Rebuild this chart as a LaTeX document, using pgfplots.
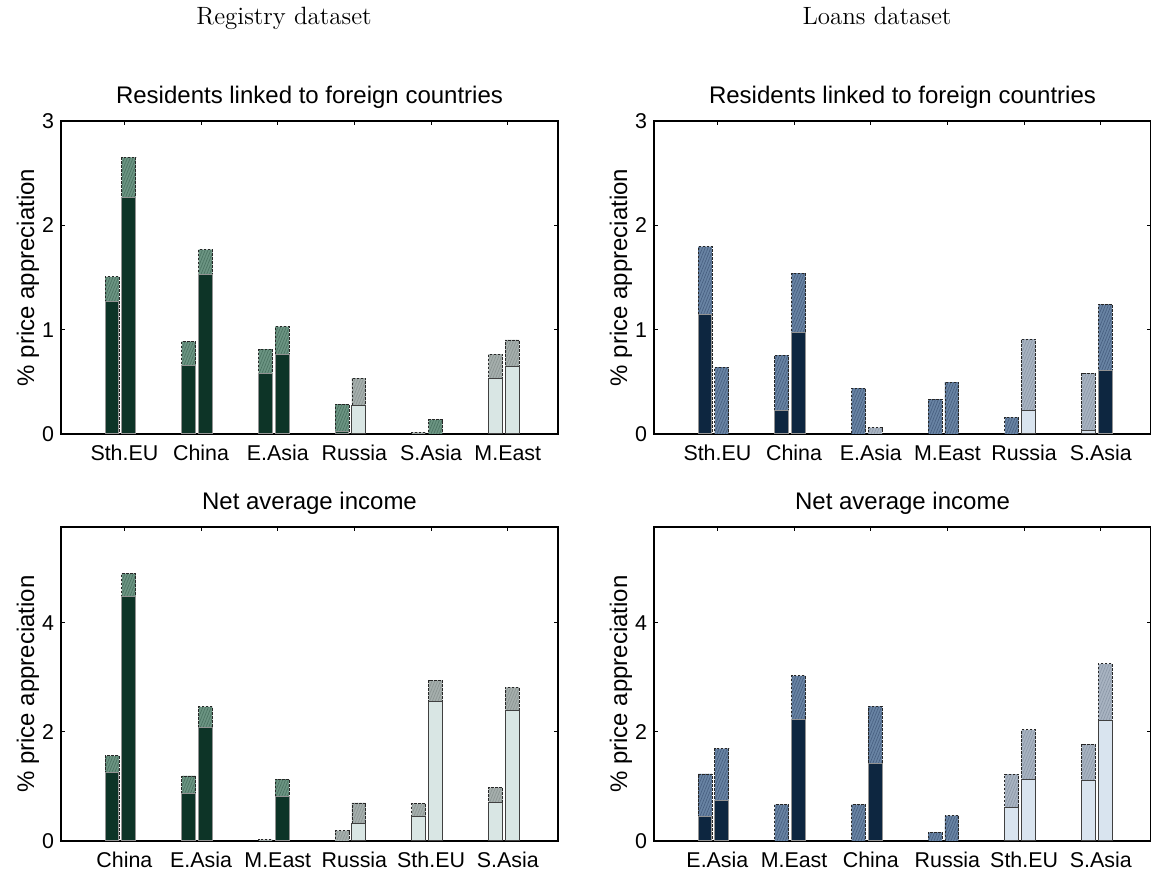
\documentclass[border=0pt]{standalone}
\usepackage{fontspec}
\setsansfont{Liberation Sans}
\usepackage{pgfplots}
\pgfplotsset{compat=1.18}
\usepackage{pgfplotstable}
\usetikzlibrary{patterns.meta}

\definecolor{gdark}{HTML}{0D3427}
\definecolor{ghatch}{HTML}{6C9583}
\definecolor{ghatchline}{HTML}{4A7261}
\definecolor{glight}{HTML}{D9E6E4}
\definecolor{gghatch}{HTML}{A6AFAD}
\definecolor{gghatchline}{HTML}{8A9492}
\definecolor{bdark}{HTML}{0D2640}
\definecolor{bhatch}{HTML}{6984A4}
\definecolor{bhatchline}{HTML}{475F80}
\definecolor{blight}{HTML}{D9E4EF}
\definecolor{bghatch}{HTML}{A9B4C2}
\definecolor{bghatchline}{HTML}{8C98A8}

% Registry, residents linked to foreign countries
\pgfplotstableread{
x s t
0.839 1.266 1.507
1.057 2.266 2.651
1.839 0.654 0.885
2.057 1.532 1.766
2.839 0.583 0.814
3.057 0.766 1.029
3.839 0.026 0.286
5.057 nan 0.138
}\TLd
\pgfplotstableread{
x s t
4.057 0.276 0.535
4.839 nan 0.016
5.839 0.535 0.766
6.057 0.647 0.901
}\TLl
% Loans, residents linked to foreign countries
\pgfplotstableread{
x s t
0.839 1.144 1.795
1.057 nan 0.641
1.839 0.221 0.757
2.057 0.974 1.542
2.839 nan 0.439
3.839 nan 0.333
4.057 nan 0.497
4.839 nan 0.160
6.057 0.606 1.243
}\TRd
\pgfplotstableread{
x s t
3.057 nan 0.061
5.057 0.221 0.910
5.839 0.035 0.580
}\TRl
% Registry, net average income
\pgfplotstableread{
x s t
0.839 1.248 1.560
1.057 4.477 4.899
1.839 0.862 1.193
2.057 2.073 2.459
3.057 0.820 1.132
}\BLd
\pgfplotstableread{
x s t
2.839 nan 0.025
3.839 nan 0.190
4.057 0.325 0.697
4.839 0.440 0.686
5.057 2.557 2.943
5.839 0.705 0.980
6.057 2.385 2.815
}\BLl
% Loans, net average income
\pgfplotstableread{
x s t
0.839 0.440 1.229
1.057 0.747 1.695
1.839 nan 0.667
2.057 2.233 3.028
2.839 nan 0.667
3.057 1.420 2.466
3.839 nan 0.160
4.057 nan 0.466
}\BRd
\pgfplotstableread{
x s t
4.839 0.618 1.224
5.057 1.120 2.037
5.839 1.108 1.769
6.057 2.209 3.248
}\BRl

\pgfplotsset{
  panel/.style={
    scale only axis, width=248.5pt, anchor=south west,
    xmin=0.173, xmax=6.655, ymin=0,
    xtick={1,2,3,4,5,6},
    tick align=inside, major tick length=2pt,
    axis line style={line width=0.6pt, black},
    every tick/.style={black, line width=0.5pt},
    tick label style={font=\sffamily\fontsize{10.7}{12}\selectfont},
    /pgf/number format/assume math mode=true,
    xticklabel style={anchor=base, yshift=-13.5pt},
    every axis title/.style={font=\sffamily\fontsize{12}{14}\selectfont, at={(axis description cs:0.5,1)}, anchor=base, yshift=8.5pt},
    ylabel={\% price appreciation},
    every axis y label/.style={at={(axis description cs:-0.0664,0.5)}, rotate=90, anchor=center, font=\sffamily\fontsize{12}{14}\selectfont},
  },
  hb/.style 2 args={ybar, bar width=0.18, bar shift=0pt, fill=#1, draw=black!85, line width=0.4pt, dash pattern=on 1.2pt off 0.8pt,
     postaction={pattern={Lines[angle=68,distance=1.3pt,line width=0.35pt]}, pattern color=#2}},
  sb/.style 2 args={ybar, bar width=0.18, bar shift=0pt, fill=#1, draw=#2, line width=0.5pt, solid},
}

\begin{document}
\begin{tikzpicture}
\path[use as bounding box] (0,0) rectangle (575.5pt,438pt);
\node[anchor=base, font=\rmfamily\fontsize{12.5}{15}\selectfont] at (142pt,425.5pt) {Registry dataset};
\node[anchor=base, font=\rmfamily\fontsize{12.5}{15}\selectfont] at (438.5pt,425.5pt) {Loans dataset};

\begin{axis}[panel, at={(30.5pt,221pt)}, height=156.5pt, ymax=3, ytick={0,1,2,3},
  xticklabels={Sth.EU,China,E.Asia,Russia,S.Asia,M.East},
  title={Residents linked to foreign countries}]
\addplot[hb={ghatch}{ghatchline}] table[x=x,y=t]{\TLd};
\addplot[hb={gghatch}{gghatchline}] table[x=x,y=t]{\TLl};
\addplot[sb={gdark}{gray!85}] table[x=x,y=s]{\TLd};
\addplot[sb={glight}{black!75}] table[x=x,y=s]{\TLl};
\end{axis}

\begin{axis}[panel, at={(327pt,221pt)}, height=156.5pt, ymax=3, ytick={0,1,2,3},
  xticklabels={Sth.EU,China,E.Asia,M.East,Russia,S.Asia},
  title={Residents linked to foreign countries}]
\addplot[hb={bhatch}{bhatchline}] table[x=x,y=t]{\TRd};
\addplot[hb={bghatch}{bghatchline}] table[x=x,y=t]{\TRl};
\addplot[sb={bdark}{gray!85}] table[x=x,y=s]{\TRd};
\addplot[sb={blight}{black!75}] table[x=x,y=s]{\TRl};
\end{axis}

\begin{axis}[panel, at={(30.5pt,17.5pt)}, height=157pt, ymax=5.756, ytick={0,2,4},
  xticklabels={China,E.Asia,M.East,Russia,Sth.EU,S.Asia},
  title={Net average income}]
\addplot[hb={ghatch}{ghatchline}] table[x=x,y=t]{\BLd};
\addplot[hb={gghatch}{gghatchline}] table[x=x,y=t]{\BLl};
\addplot[sb={gdark}{gray!85}] table[x=x,y=s]{\BLd};
\addplot[sb={glight}{black!75}] table[x=x,y=s]{\BLl};
\end{axis}

\begin{axis}[panel, at={(327pt,17.5pt)}, height=157pt, ymax=5.756, ytick={0,2,4},
  xticklabels={E.Asia,M.East,China,Russia,Sth.EU,S.Asia},
  title={Net average income}]
\addplot[hb={bhatch}{bhatchline}] table[x=x,y=t]{\BRd};
\addplot[hb={bghatch}{bghatchline}] table[x=x,y=t]{\BRl};
\addplot[sb={bdark}{gray!85}] table[x=x,y=s]{\BRd};
\addplot[sb={blight}{black!75}] table[x=x,y=s]{\BRl};
\end{axis}
\end{tikzpicture}
\end{document}
